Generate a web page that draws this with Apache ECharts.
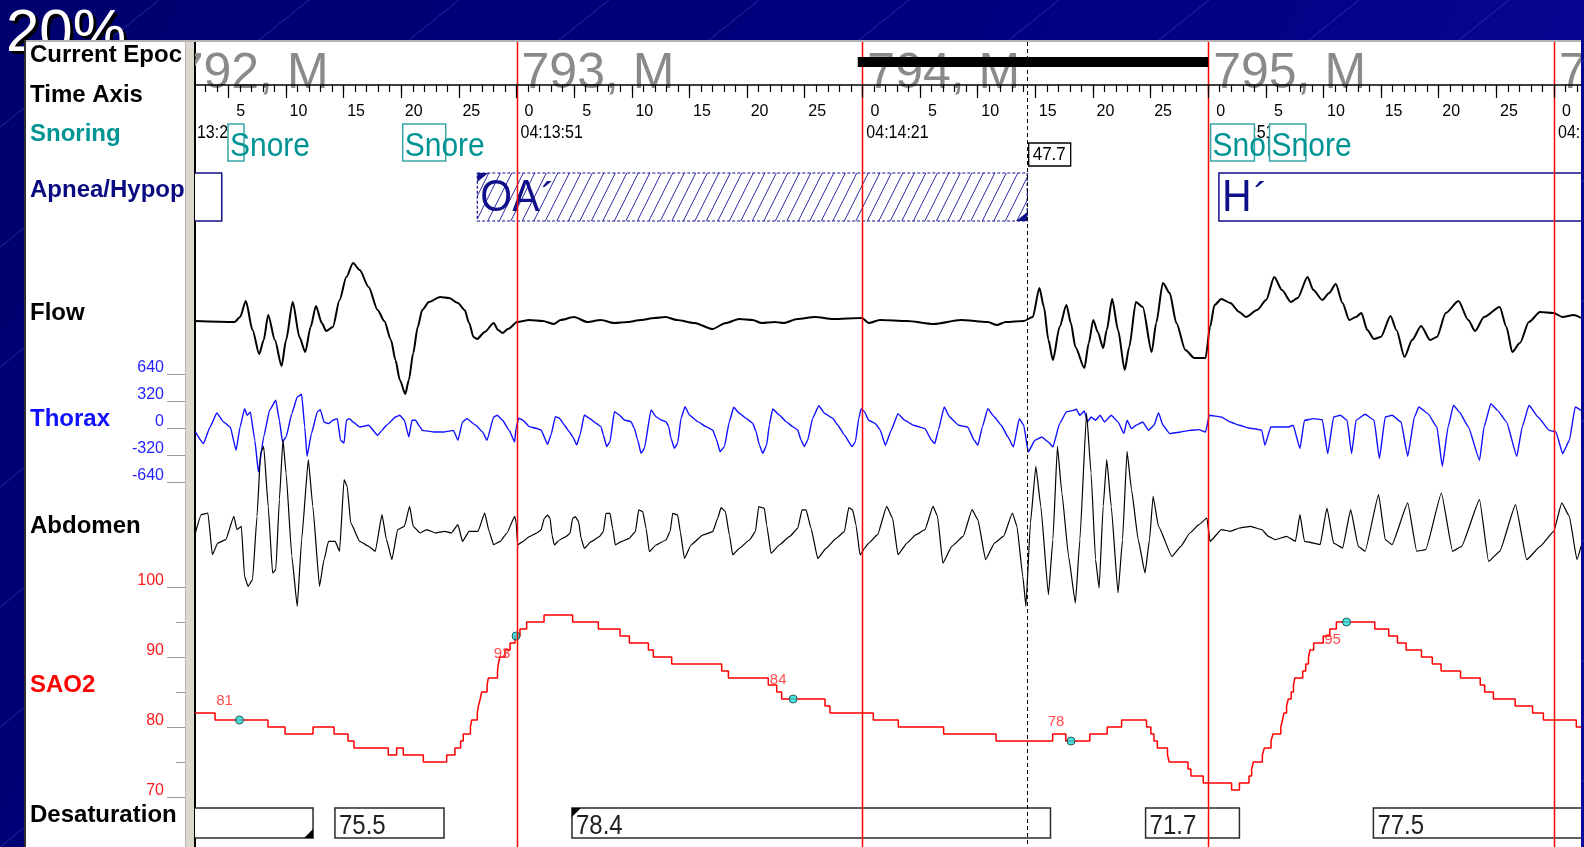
<!DOCTYPE html>
<html>
<head>
<meta charset="utf-8">
<title>Polysomnography – epochs 792 to 795</title>
<script src="https://cdn.jsdelivr.net/npm/echarts@6/dist/echarts.min.js"></script>
<style>
  html, body { margin: 0; padding: 0; background: #000078; overflow: hidden; }
  #chart { width: 1584px; height: 847px; }
</style>
</head>
<body>
<div id="chart"></div>
<script>
// ---------- Epochs and time window (seconds from the start of epoch 792) ----------
const epochNumbers  = [792, 793, 794, 795, 796];
const epochStages   = ['M', 'M', 'M', 'M', 'M'];
const epochStartSec = [0, 30, 60, 90, 120];
const epochClock    = ['04:13:21', '04:13:51', '04:14:21', '04:14:51', '04:15:21'];
const viewWindowSec = [2.11, 122.34];
const currentEpochSec = [59.6, 90];
const majorTickSec = [5, 10, 15, 20, 25, 30, 35, 40, 45, 50, 55, 60, 65, 70, 75, 80, 85, 90, 95, 100, 105, 110, 115, 120];

// ---------- Channel names ----------
const channelNames = ['Current Epoc', 'Time Axis', 'Snoring', 'Apnea/Hypop', 'Flow', 'Thorax', 'Abdomen', 'SAO2', 'Desaturation'];

// ---------- Scored events ----------
const snoreStartSec = [4.97, 20.13, 90.21, 95.32];
const snoreEndSec   = [6.36, 23.86, 94.01, 98.47];

const apneaType     = ['H', 'OA', 'H'];
const apneaStartSec = [-10, 26.6, 90.93];
const apneaEndSec   = [4.43, 74.3, 135];

const desatStartSec = [-10, 14.25, 34.81, 84.57, 104.33];
const desatEndSec   = [12.35, 23.71, 76.32, 92.71, 135];
const desatValue    = [null, 75.5, 78.4, 71.7, 77.5];

// ---------- Axis ticks ----------
const thoraxTicks = [-640, -320, 0, 320, 640];
const sao2Ticks = [70, 80, 90, 100];
const sao2MinorTicks = [75, 85, 95];

// ---------- Signals: [seconds, value] ----------
const flow = [[2.07,0],[5.55,-1],[6.02,4],[6.52,20],[7.10,-9],[7.68,-33],[8.07,-19],[8.46,6],[9.04,-19],[9.62,-45],[10.01,-19],[10.59,19],[11.17,-16],[11.67,-31],[12.14,-6],[12.60,15],[13.11,-2],[13.49,-10],[14.07,-6],[14.65,21],[15.24,44],[15.82,58],[16.40,51],[17.17,34],[17.95,11],[18.53,0],[19.11,-19],[19.50,-39],[19.88,-59],[20.35,-73],[20.66,-59],[21.04,-32],[21.43,-6],[21.82,11],[22.40,19],[23.37,24],[24.14,23],[24.92,18],[25.50,11],[25.89,-2],[26.27,-16],[26.58,-18],[27.24,-11],[28.02,-2],[28.40,-9],[28.79,-12],[29.26,-8],[30.07,-1],[31.11,1],[32.28,0],[33.24,-3],[33.83,1],[34.99,4],[36.15,-1],[37.31,1],[38.47,-2],[39.64,-1],[40.80,1],[41.96,3],[42.93,4],[43.90,1],[45.44,-2],[46.99,-8],[48.16,-2],[49.32,2],[50.48,1],[51.25,-2],[52.42,-1],[53.19,-2],[54.35,2],[55.90,4],[57.45,2],[59.97,3],[60.55,-2],[61.53,1],[63.87,0],[66.20,-3],[68.54,1],[70.88,-1],[71.66,-4],[72.44,-1],[74.00,0],[74.78,4],[75.36,33],[75.75,14],[76.14,-19],[76.53,-39],[77.11,-6],[77.70,16],[78.09,-2],[78.48,-26],[79.26,-47],[79.64,-22],[80.03,1],[80.42,-11],[80.89,-27],[81.20,-9],[81.67,22],[82.18,-9],[82.76,-49],[83.15,-26],[83.73,19],[84.32,14],[85.10,-31],[85.49,-2],[86.07,38],[86.66,28],[87.24,-2],[88.02,-29],[88.80,-37],[89.77,-37],[90.16,-6],[90.55,16],[91.14,22],[91.92,18],[92.69,9],[93.28,4],[94.25,11],[95.03,21],[95.73,44],[96.40,31],[97.17,19],[97.76,23],[98.62,44],[99.12,31],[99.90,21],[100.49,28],[101.07,37],[101.65,18],[102.24,1],[102.82,4],[103.29,8],[103.80,-9],[104.38,-18],[104.97,-16],[105.82,5],[106.33,-9],[107.03,-36],[107.69,-19],[108.47,-5],[109.25,-19],[109.84,-16],[110.61,8],[111.71,20],[112.56,1],[113.15,-10],[113.93,4],[115.29,14],[115.87,-6],[116.38,-31],[117.04,-22],[117.82,-1],[118.79,9],[119.96,8],[120.74,4],[121.72,6],[122.34,3]];

const thorax = [[2.14,-43],[2.84,-182],[3.42,16],[4.00,182],[4.58,75],[5.17,16],[5.67,-261],[6.02,16],[6.41,233],[6.64,154],[6.91,194],[7.30,-142],[7.61,-517],[8.07,-103],[8.57,213],[9.12,332],[9.43,95],[9.70,-162],[10.01,-103],[10.51,174],[10.98,371],[11.36,403],[11.63,16],[11.83,-332],[12.21,-63],[12.72,194],[12.99,221],[13.30,75],[13.69,55],[14.07,95],[14.46,115],[14.73,-142],[15.04,-174],[15.24,95],[15.51,115],[15.82,75],[16.40,16],[17.17,36],[17.95,-83],[18.33,-24],[18.72,36],[19.50,134],[19.88,154],[20.27,95],[20.66,-103],[20.93,95],[21.24,95],[21.63,16],[21.82,-24],[22.79,-43],[23.76,-43],[24.53,-24],[24.92,-142],[25.31,75],[25.69,115],[26.47,36],[27.05,-43],[27.44,-142],[28.02,134],[28.33,154],[28.79,95],[29.37,-24],[29.84,-162],
  [29.96,0],[30.19,119],[30.53,99],[31.11,20],[31.69,0],[32.13,-20],[32.70,-190],[32.99,-79],[33.37,138],[33.72,119],[34.15,40],[34.58,-40],[34.87,-99],[35.22,-198],[35.51,-79],[35.88,158],[36.32,119],[36.90,59],[37.33,20],[37.53,-79],[37.82,-217],[38.11,-158],[38.49,198],[38.92,158],[39.35,99],[39.93,79],[40.22,0],[40.51,-138],[40.80,-296],[41.09,-237],[41.67,217],[42.10,138],[42.54,99],[42.97,79],[43.20,20],[43.40,-119],[43.69,-237],[43.98,-178],[44.27,119],[44.62,257],[44.99,158],[45.72,79],[46.44,20],[47.02,-20],[47.31,-119],[47.66,-277],[48.03,-217],[48.46,79],[48.84,249],[49.33,178],[49.91,119],[50.49,59],[50.78,-40],[51.07,-198],[51.36,-296],[51.70,-198],[51.93,40],[52.22,229],[52.80,158],[53.38,79],[53.96,20],[54.39,-20],[54.68,-138],[54.97,-217],[55.26,-138],[55.69,119],[56.22,269],[56.71,178],[57.43,119],[57.86,40],[58.44,-79],[59.11,-217],[59.40,-158],[59.69,119],[59.89,229],[60.18,198],
  [60.55,95],[61.13,55],[61.53,-16],[62.00,-201],[62.50,-24],[63.09,174],[63.67,95],[64.45,36],[65.43,-4],[66.01,-142],[66.28,-182],[66.59,-24],[67.10,253],[67.57,134],[68.35,36],[69.13,16],[69.71,-142],[70.02,-201],[70.41,16],[70.88,233],[71.46,134],[72.05,36],[72.63,-103],[73.10,-221],[73.61,115],[74.00,36],[74.39,-280],[74.97,-142],[75.56,-103],[76.14,-162],[76.53,-221],[77.11,55],[77.70,194],[78.28,213],[78.56,225],[78.87,154],[79.26,205],[79.53,75],[79.84,134],[80.23,95],[80.62,154],[81.01,75],[81.59,154],[82.18,75],[82.69,-63],[82.96,95],[83.35,-4],[83.74,36],[84.32,75],[84.83,-24],[85.30,36],[85.69,186],[86.08,36],[86.66,-63],[87.63,-43],[88.41,-24],[89.19,-16],[89.78,-43],[90.09,154],[91.14,134],[91.92,75],[92.70,36],[93.48,4],[94.45,-16],[94.65,-24],[94.92,-201],[95.43,16],[96.21,16],[96.98,16],[97.37,36],[97.96,-241],[98.35,95],[99.13,115],[99.90,103],[100.37,-300],[100.88,134],[101.46,154],[102.05,95],[102.44,-300],[102.83,95],[103.61,166],[104.39,95],[104.85,-359],[105.36,134],[105.95,154],[106.73,75],[107.31,-332],[107.89,134],[108.28,253],[109.06,174],[109.84,16],[110.31,-450],[110.81,16],[111.28,273],[111.79,194],[112.57,16],[113.54,-379],[113.93,16],[114.52,292],[115.10,213],[115.88,75],[116.77,-332],[117.24,16],[117.83,273],[118.61,134],[119.58,-24],[120.16,-43],[120.75,-300],[121.33,-142],[121.84,253],[122.34,213]];

const abdomen = [[2.14,0],[2.65,217],[3.23,237],[3.62,-257],[4.08,-119],[4.78,-79],[5.48,198],[5.75,40],[6.13,79],[6.41,-514],[6.71,-632],[7.10,-553],[7.49,198],[7.80,948],[8.07,1027],[8.46,316],[8.84,-474],[9.12,-435],[9.43,395],[9.74,1106],[10.01,711],[10.51,-277],[10.98,-869],[11.36,-79],[11.94,869],[12.33,316],[12.91,-632],[13.30,-316],[13.69,-99],[14.27,-99],[14.65,-217],[15.04,632],[15.31,553],[15.62,119],[16.40,-99],[17.17,-158],[17.75,-217],[18.33,217],[18.72,-79],[19.19,-316],[19.69,40],[20.27,79],[20.73,316],[21.04,79],[21.63,0],[22.21,40],[22.98,0],[23.76,20],[24.34,0],[24.92,99],[25.31,-99],[25.89,20],[26.66,20],[27.24,237],[27.62,20],[28.01,-138],[28.59,-99],[29.17,0],[29.84,198],
  [29.96,134],[30.10,-142],[30.53,-103],[31.11,-43],[31.69,-4],[32.13,36],[32.41,174],[32.70,213],[32.91,174],[33.08,-24],[33.28,-142],[33.72,-83],[34.29,-43],[34.64,-4],[34.87,174],[35.10,194],[35.39,134],[35.60,-63],[35.88,-182],[36.46,-103],[37.19,-43],[37.53,16],[37.76,233],[38.11,233],[38.34,55],[38.57,-142],[39.07,-103],[39.79,-63],[40.31,16],[40.60,273],[40.95,253],[41.24,55],[41.52,-221],[42.10,-142],[42.97,-83],[43.32,16],[43.55,233],[43.98,213],[44.21,16],[44.56,-300],[45.14,-142],[46.15,-24],[47.02,16],[47.45,174],[47.74,300],[48.12,253],[48.47,-24],[48.75,-261],[49.33,-182],[50.20,-83],[50.72,16],[51.01,312],[51.50,292],[51.70,95],[52.08,-241],[52.80,-142],[53.67,-43],[54.39,55],[54.77,273],[55.12,273],[55.55,55],[56.13,-300],[56.85,-182],[57.72,-63],[58.44,16],[58.82,300],[59.16,273],[59.45,95],[59.80,-261],[60.18,-182],
  [60.55,-119],[61.32,-20],[62.11,316],[62.62,178],[63.09,-257],[63.87,-119],[64.65,-20],[65.43,40],[66.13,316],[66.52,198],[66.98,-356],[67.76,-158],[68.74,-40],[69.52,277],[70.02,158],[70.69,-316],[71.46,-119],[72.24,-40],[73.02,237],[73.41,79],[73.92,-514],[74.19,-869],[74.58,119],[75.05,790],[75.48,316],[76.14,-731],[76.53,-79],[76.92,1027],[77.31,474],[77.89,-277],[78.48,-830],[78.87,-79],[79.45,1422],[79.84,711],[80.23,-316],[80.54,-652],[80.89,316],[81.20,869],[81.59,316],[82.18,-711],[82.57,-79],[82.96,968],[83.35,514],[83.93,-79],[84.52,-474],[84.91,-79],[85.22,435],[85.69,79],[86.85,-277],[87.63,-158],[88.41,0],[89.19,99],[89.89,178],[90.16,-99],[91.14,40],[91.92,20],[92.70,59],[93.67,79],[94.65,40],[95.23,-40],[95.81,-79],[96.79,-40],[97.57,-99],[97.96,217],[98.35,-99],[99.13,-119],[99.71,-138],[100.30,296],[100.88,-119],[101.66,-178],[102.36,277],[103.02,-158],[103.61,-217],[104.78,454],[105.36,-79],[105.95,-138],[107.31,356],[108.09,-217],[108.87,-198],[110.23,474],[111.20,-217],[111.98,-158],[113.54,395],[114.32,-336],[115.29,-217],[116.66,336],[117.63,-316],[118.80,-158],[119.97,20],[120.67,356],[121.33,198],[121.99,-316],[122.34,-158]];

// SaO2 in %, each point is the time the reading changes to a new value
const sao2 = [[2.11,82],[3.85,81],[8.44,80],[9.92,79],[12.35,80],[14.17,79],[15.38,78],[15.9,77],[18.88,76],[19.6,77],[20.18,76],[21.92,75],[23.94,76],[24.66,77],[25.15,78],[25.38,79],[26.0,80],[26.11,81],[26.6,82],[26.69,83],[26.85,84],[26.98,85],[27.45,86],[27.56,87],[28.35,88],[28.42,89],[28.57,90],[29.0,91],[29.44,92],[29.87,93],[30.3,94],[30.88,95],[32.39,96],[34.87,95],[37.1,94],[38.98,93],[39.79,92],[41.44,91],[41.87,90],[43.46,89],[47.8,88],[48.38,87],[51.84,86],[52.57,85],[53.0,84],[56.76,83],[57.19,82],[60.95,81],[63.12,80],[67.05,79],[71.6,78],[76.51,79],[77.65,78],[79.73,79],[81.24,80],[82.49,81],[84.65,80],[85.03,79],[85.29,78],[85.59,77],[86.47,76],[86.62,75],[88.25,74],[88.5,73],[89.57,72],[92.03,71],[92.71,72],[93.54,73],[93.77,74],[93.92,75],[94.7,76],[94.87,77],[95.45,78],[95.62,79],[96.3,80],[96.45,81],[96.57,82],[96.8,83],[96.95,84],[97.2,85],[97.4,86],[97.52,87],[98.2,88],[98.46,89],[98.7,90],[98.83,91],[99.15,92],[99.98,93],[100.55,94],[101.12,95],[104.45,94],[105.66,93],[106.42,92],[107.17,91],[108.5,90],[109.44,89],[110.2,88],[111.89,87],[113.6,86],[113.98,85],[114.74,84],[116.63,83],[118.14,82],[119.08,81],[121.93,80],[122.34,80]];
const sao2Marks = [[5.97,81],[29.96,93],[54.0,84],[78.1,78],[102.0,95]];

// ---------- Layout ----------
const FONT = '"Liberation Sans", Arial, Helvetica, sans-serif';
const T0 = viewWindowSec[0], T1 = viewWindowSec[1];
const gridBoxes = [
  [42, 805],    // 0 full height overlay: epoch boundaries and cursor
  [42, 43],     // 1 time axis
  [42, 58],     // 2 epoch headers
  [100, 70],    // 3 clock labels + snoring
  [170, 55],    // 4 apnea / hypopnea
  [231, 180],   // 5 flow
  [347.3, 162], // 6 thorax
  [411.5, 243], // 7 abdomen
  [580, 224],   // 8 SaO2
  [804, 40]     // 9 desaturation
];
const grids = gridBoxes.map(b => ({ left: 195, right: 3, top: b[0], height: b[1], containLabel: false }));
const yRanges = [[0,1],[0,1],[0,1],[0,1],[0,1],[-90,90],[-960,960],[-1440,1440],[69,101],[0,1]];

const minorTickSec = [];
for (let s = Math.ceil(T0); s <= Math.floor(T1); s++) minorTickSec.push(s);

const xAxes = grids.map((g, i) => ({ gridIndex: i, type: 'value', min: T0, max: T1, show: false }));
xAxes[1] = {
  gridIndex: 1, type: 'value', min: T0, max: T1, position: 'bottom', z: 9,
  axisLine: { show: true, onZero: false, lineStyle: { color: '#000', width: 1.5 } },
  axisTick: { show: true, length: 13, customValues: majorTickSec, lineStyle: { color: '#000', width: 1.2 } },
  axisLabel: { show: true, customValues: majorTickSec, formatter: v => String(Math.round(v) % 30),
               margin: 19, color: '#000', fontSize: 16, fontFamily: FONT, padding: [0, 0, 0, 25] },
  splitLine: { show: false }
};
xAxes.push({
  gridIndex: 1, type: 'value', min: T0, max: T1, position: 'bottom', z: 9,
  axisLine: { show: false }, axisLabel: { show: false }, splitLine: { show: false },
  axisTick: { show: true, length: 7, customValues: minorTickSec, lineStyle: { color: '#000', width: 1.2 } }
});

const yAxes = yRanges.map((r, i) => ({ gridIndex: i, type: 'value', min: r[0], max: r[1], show: false }));
yAxes[6] = {
  gridIndex: 6, type: 'value', min: -960, max: 960, position: 'left', offset: 10,
  axisLine: { show: false, onZero: false }, splitLine: { show: false },
  axisTick: { show: true, length: 18, customValues: thoraxTicks, lineStyle: { color: '#9a9a9a', width: 1 } },
  axisLabel: { show: true, customValues: thoraxTicks, margin: 21, color: '#1f1fff', fontSize: 16,
               fontFamily: FONT, verticalAlign: 'bottom', lineHeight: 13 }
};
yAxes[8] = {
  gridIndex: 8, type: 'value', min: 69, max: 101, position: 'left', offset: 10,
  axisLine: { show: false, onZero: false }, splitLine: { show: false },
  axisTick: { show: true, length: 18, customValues: sao2Ticks, lineStyle: { color: '#9a9a9a', width: 1 } },
  axisLabel: { show: true, customValues: sao2Ticks, margin: 21, color: '#ff1a1a', fontSize: 16,
               fontFamily: FONT, verticalAlign: 'bottom', lineHeight: 12 }
};
yAxes.push({
  gridIndex: 8, type: 'value', min: 69, max: 101, position: 'left', offset: 10,
  axisLine: { show: false, onZero: false }, splitLine: { show: false }, axisLabel: { show: false },
  axisTick: { show: true, length: 9, customValues: sao2MinorTicks, lineStyle: { color: '#9a9a9a', width: 1 } }
});

function xAt(api, t) { return api.coord([t, 0])[0]; }
function txt(x, y, text, font, fill, align, extra) {
  return Object.assign({
    type: 'text', x: x, y: y,
    style: { text: text, font: font, fill: fill, align: align || 'left', verticalAlign: 'middle',
             textAlign: align || 'left', textVerticalAlign: 'middle' }
  }, extra || {});
}

const series = [];

// Epoch headers "792, M" ...
series.push({
  type: 'custom', xAxisIndex: 2, yAxisIndex: 2, z: 1, clip: true, silent: true,
  data: epochStartSec.map((s, i) => [s, 0, i]),
  renderItem(params, api) {
    const cs = params.coordSys, i = api.value(2);
    return txt(xAt(api, api.value(0)) + 5, cs.y + 32, epochNumbers[i] + ', ' + epochStages[i],
               '50px ' + FONT, '#8a8a8a');
  }
});
// Current epoch bar
series.push({
  type: 'custom', xAxisIndex: 2, yAxisIndex: 2, z: 11, clip: true, silent: true,
  data: [[currentEpochSec[0], currentEpochSec[1]]],
  renderItem(params, api) {
    const cs = params.coordSys, a = xAt(api, api.value(0)), b = xAt(api, api.value(1));
    return { type: 'rect', shape: { x: a, y: cs.y + 15, width: b - a, height: 10 }, style: { fill: '#000' } };
  }
});
// Clock time at each epoch start
series.push({
  type: 'custom', xAxisIndex: 3, yAxisIndex: 3, z: 3, clip: true, silent: true,
  data: epochStartSec.map((s, i) => [s, 0, i]),
  renderItem(params, api) {
    const cs = params.coordSys;
    return txt(xAt(api, api.value(0)) + 4, cs.y + 33.5, epochClock[api.value(2)], '16px ' + FONT, '#000', 'left', { scaleY: 1.12 });
  }
});
// Snoring events
series.push({
  type: 'custom', xAxisIndex: 3, yAxisIndex: 3, z: 5, clip: true, silent: true,
  data: snoreStartSec.map((s, i) => [s, snoreEndSec[i]]),
  renderItem(params, api) {
    const cs = params.coordSys, a = xAt(api, api.value(0)), b = xAt(api, api.value(1));
    return { type: 'group', children: [
      { type: 'rect', shape: { x: a, y: cs.y + 24, width: b - a, height: 37 },
        style: { fill: '#fff', stroke: '#3aa5a5', lineWidth: 1.5 } },
      txt(a + 2, cs.y + 46.5, 'Snore', '30px ' + FONT, '#009393', 'left', { scaleY: 1.1 })
    ] };
  }
});
// Apnea / hypopnea events
series.push({
  type: 'custom', xAxisIndex: 4, yAxisIndex: 4, z: 5, clip: true, silent: true,
  data: apneaStartSec.map((s, i) => [s, apneaEndSec[i], i]),
  renderItem(params, api) {
    const cs = params.coordSys, a = xAt(api, api.value(0)), b = xAt(api, api.value(1));
    const kind = apneaType[api.value(2)];
    const top = cs.y + 3, h = 48, bot = top + h, navy = '#10108a';
    const kids = [];
    if (kind === 'OA') {
      const run = 24, gap = 11.5;
      for (let c = a - run; c < b; c += gap) {
        const s0 = Math.max(0, (a - c) / run), s1 = Math.min(1, (b - c) / run);
        if (s1 <= s0) continue;
        kids.push({ type: 'line', shape: { x1: c + run * s0, y1: bot - h * s0, x2: c + run * s1, y2: bot - h * s1 },
                    style: { stroke: '#3030aa', lineWidth: 1 } });
      }
      kids.push({ type: 'rect', shape: { x: a, y: top, width: b - a, height: h },
                  style: { fill: 'none', stroke: navy, lineWidth: 1.2, lineDash: [3, 2] } });
      kids.push({ type: 'polygon', shape: { points: [[a, top], [a + 11, top], [a, top + 9]] }, style: { fill: navy } });
      kids.push({ type: 'polygon', shape: { points: [[b, bot], [b - 11, bot], [b, bot - 9]] }, style: { fill: navy } });
    } else {
      kids.push({ type: 'rect', shape: { x: a, y: top, width: b - a, height: h },
                  style: { fill: '#fff', stroke: navy, lineWidth: 1.5 } });
    }
    kids.push(txt(a + 3, cs.y + 29, kind, '41px ' + FONT, navy, 'left', { scaleY: 1.1 }));
    kids.push(txt(a + 3 + (kind === 'OA' ? 61 : 32), cs.y + 30, '\u00B4', '41px ' + FONT, navy, 'left'));
    return { type: 'group', children: kids };
  }
});
// Duration of the obstructive apnea, shown at its end
series.push({
  type: 'custom', xAxisIndex: 3, yAxisIndex: 3, z: 6, clip: true, silent: true,
  data: apneaType.map((k, i) => [apneaEndSec[i], apneaEndSec[i] - apneaStartSec[i], k]).filter(d => d[2] === 'OA'),
  renderItem(params, api) {
    const cs = params.coordSys, a = xAt(api, api.value(0)) + 1.5;
    return { type: 'group', children: [
      { type: 'rect', shape: { x: a, y: cs.y + 43, width: 42, height: 23 }, style: { fill: '#fff', stroke: '#000', lineWidth: 1.3 } },
      txt(a + 4, cs.y + 55, api.value(1).toFixed(1), '17px ' + FONT, '#000', 'left', { scaleY: 1.1 })
    ] };
  }
});
// Desaturation events
series.push({
  type: 'custom', xAxisIndex: 9, yAxisIndex: 9, z: 5, clip: true, silent: true,
  data: desatStartSec.map((s, i) => [s, desatEndSec[i], i]),
  renderItem(params, api) {
    const cs = params.coordSys, a = xAt(api, api.value(0)), b = xAt(api, api.value(1)), i = api.value(2);
    const top = cs.y + 4, h = 30, bot = top + h;
    const kids = [{ type: 'rect', shape: { x: a, y: top, width: b - a, height: h },
                    style: { fill: '#fff', stroke: '#2a2a2a', lineWidth: 1.5 } }];
    if (i === 0) kids.push({ type: 'polygon', shape: { points: [[b, bot], [b - 9, bot], [b, bot - 9]] }, style: { fill: '#000' } });
    if (i === 2) kids.push({ type: 'polygon', shape: { points: [[a, top], [a + 9, top], [a, top + 9]] }, style: { fill: '#000' } });
    if (desatValue[i] != null) kids.push(txt(a + 4, cs.y + 22, desatValue[i].toFixed(1), '24px ' + FONT, '#222', 'left', { scaleY: 1.15 }));
    return { type: 'group', children: kids };
  }
});
// Signals
const lineBase = { type: 'line', showSymbol: false, silent: true, z: 6, smoothMonotone: 'x' };
series.push(Object.assign({}, lineBase, { name: 'Flow', xAxisIndex: 5, yAxisIndex: 5, data: flow, smooth: 0.25,
  lineStyle: { color: '#000', width: 2 } }));
series.push(Object.assign({}, lineBase, { name: 'Thorax', xAxisIndex: 6, yAxisIndex: 6, data: thorax, smooth: 0.12,
  lineStyle: { color: '#1010ff', width: 1.4 } }));
series.push(Object.assign({}, lineBase, { name: 'Abdomen', xAxisIndex: 7, yAxisIndex: 7, data: abdomen, smooth: 0.12,
  lineStyle: { color: '#000', width: 1.2 } }));
series.push({ type: 'line', name: 'SAO2', xAxisIndex: 8, yAxisIndex: 8, data: sao2, step: 'end', showSymbol: false,
  silent: true, z: 6, lineStyle: { color: '#ff0000', width: 1.5 } });
series.push({
  type: 'scatter', xAxisIndex: 8, yAxisIndex: 8, z: 7, silent: true, symbolSize: 8,
  itemStyle: { color: '#22dede', borderColor: '#0b3a3a', borderWidth: 1 },
  data: sao2Marks.map(m => ({
    value: m,
    label: { position: m[1] >= 90 ? 'bottom' : 'top', offset: m[1] >= 90 ? [-14, 1] : [-15, -2] }
  })),
  label: { show: true, formatter: p => String(p.value[1]), color: '#ff2020', fontSize: 15, fontFamily: FONT, distance: 5 }
});
// Epoch boundaries
series.push({
  type: 'custom', xAxisIndex: 0, yAxisIndex: 0, z: 8, clip: true, silent: true,
  data: epochStartSec.map(s => [s, 0]),
  renderItem(params, api) {
    const cs = params.coordSys, x = Math.round(xAt(api, api.value(0))) + 0.5;
    return { type: 'line', shape: { x1: x, y1: cs.y, x2: x, y2: cs.y + cs.height }, style: { stroke: '#ff0000', lineWidth: 1.5 } };
  }
});
// Cursor at the end of the scored apnea
series.push({
  type: 'custom', xAxisIndex: 0, yAxisIndex: 0, z: 10, clip: true, silent: true,
  data: apneaType.map((k, i) => [apneaEndSec[i], 0, k]).filter(d => d[2] === 'OA'),
  renderItem(params, api) {
    const cs = params.coordSys, x = Math.round(xAt(api, api.value(0))) + 0.5;
    return { type: 'line', shape: { x1: x, y1: cs.y, x2: x, y2: cs.y + cs.height },
             style: { stroke: '#000', lineWidth: 1, lineDash: [4, 3] } };
  }
});

// ---------- Frame, background and channel labels ----------
const graphic = [];
graphic.push({ type: 'rect', z: -100, silent: true, shape: { x: 0, y: 0, width: 1584, height: 847 },
  style: { fill: new echarts.graphic.LinearGradient(0, 0, 1, 1, [
    { offset: 0, color: '#00006e' }, { offset: 0.5, color: '#000080' }, { offset: 1, color: '#0a0a9c' }]) } });
for (let k = 0; k < 18; k++) {
  const x0 = -900 + k * 150;
  graphic.push({ type: 'line', z: -99, silent: true, shape: { x1: x0, y1: 847, x2: x0 + 1059, y2: 0 },
    style: { stroke: 'rgba(120,130,235,0.32)', lineWidth: 1 } });
}
graphic.push(Object.assign(txt(9, 37, '20%', '60px ' + FONT, '#000'), { z: -98, silent: true }));
graphic.push(Object.assign(txt(6, 34, '20%', '60px ' + FONT, '#fff'), { z: -97, silent: true }));
graphic.push({ type: 'rect', z: -90, silent: true, shape: { x: 24, y: 40, width: 1557, height: 807 }, style: { fill: '#fff' } });
graphic.push({ type: 'line', z: -89, silent: true, shape: { x1: 24, y1: 41, x2: 1581, y2: 41 }, style: { stroke: '#b4b4b4', lineWidth: 2 } });
graphic.push({ type: 'line', z: -89, silent: true, shape: { x1: 25, y1: 40, x2: 25, y2: 847 }, style: { stroke: '#303030', lineWidth: 2 } });

const labelColors = ['#000', '#000', '#009494', '#0a0a80', '#000', '#1010ff', '#000', '#ff0000', '#000'];
const labelY = [55, 95.5, 134, 190, 313, 419.5, 526.5, 685, 815.5];
channelNames.forEach((name, i) => {
  graphic.push(Object.assign(txt(30, labelY[i], name, 'bold 24px ' + FONT, labelColors[i]), { z: -80, silent: true }));
});
graphic.push({ type: 'rect', z: -70, silent: true, shape: { x: 185, y: 42, width: 9.5, height: 805 }, style: { fill: '#dcd8d0' } });
graphic.push({ type: 'line', z: -69, silent: true, shape: { x1: 185.5, y1: 42, x2: 185.5, y2: 847 }, style: { stroke: '#b8b8b8', lineWidth: 1 } });
graphic.push({ type: 'line', z: -69, silent: true, shape: { x1: 195, y1: 42, x2: 195, y2: 847 }, style: { stroke: '#000', lineWidth: 2 } });

const chart = echarts.init(document.getElementById('chart'), null, { renderer: 'canvas' });
chart.setOption({
  animation: false,
  backgroundColor: 'transparent',
  textStyle: { fontFamily: FONT },
  grid: grids,
  xAxis: xAxes,
  yAxis: yAxes,
  series: series,
  graphic: graphic
});
</script>
</body>
</html>
